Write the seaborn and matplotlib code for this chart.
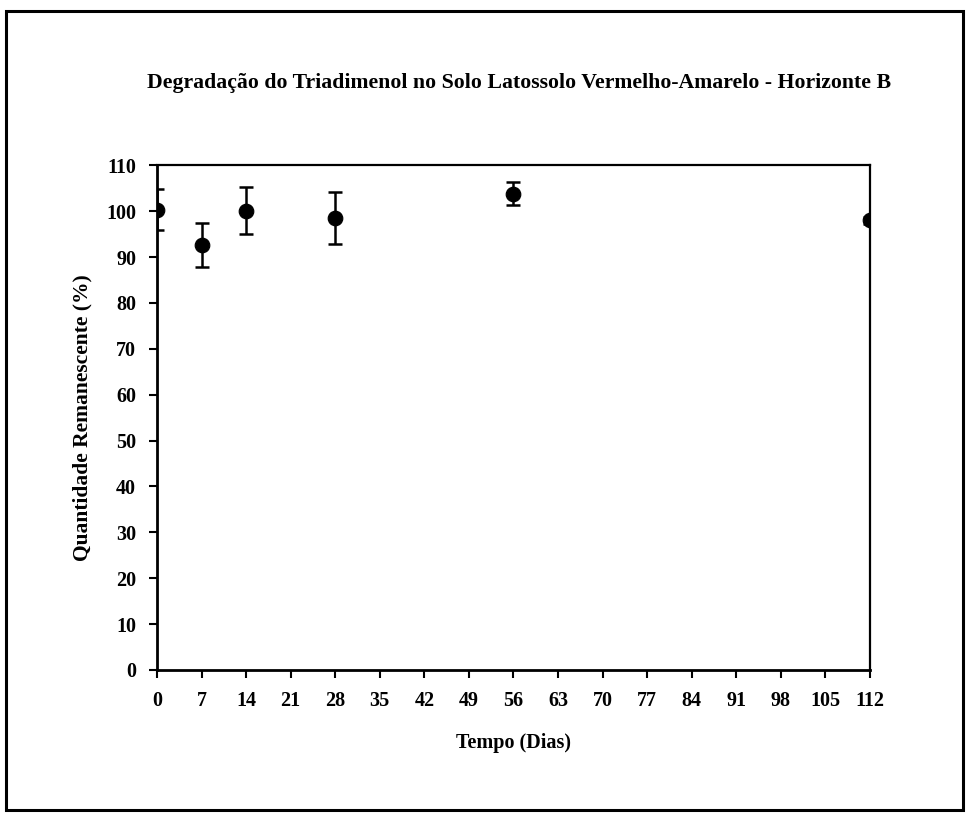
import matplotlib
matplotlib.use('Agg')
import matplotlib.pyplot as plt
import seaborn as sns
import pandas as pd
from matplotlib.patches import Rectangle

# Dados
dias = [0, 7, 14, 28, 56, 112]
quantidade = [100.3, 92.7, 100.1, 98.5, 103.8, 98.0]
desvio = [4.5, 4.8, 5.1, 5.6, 2.5, 0.8]

x_ticks = list(range(0, 113, 7))
y_ticks = list(range(0, 111, 10))

df = pd.DataFrame({'Dias': dias, 'Quantidade': quantidade, 'Desvio': desvio})

sns.set_style('ticks')
plt.rcParams['font.family'] = ['Liberation Serif', 'DejaVu Serif']
plt.rcParams['font.weight'] = 'bold'
plt.rcParams['text.color'] = 'black'
plt.rcParams['axes.labelcolor'] = 'black'

fig = plt.figure(figsize=(9.72, 8.14), dpi=100)
ax = fig.add_axes([0.1615, 0.177, 0.7335, 0.62])

ax.errorbar(df['Dias'], df['Quantidade'], yerr=df['Desvio'], fmt='none',
            ecolor='black', elinewidth=1.8, capsize=5, capthick=1.8, zorder=2)
sns.scatterplot(data=df, x='Dias', y='Quantidade', color='black', s=110,
                edgecolor='black', ax=ax, zorder=3, legend=False)

ax.set_xlim(0, 112)
ax.set_ylim(0, 110)
ax.set_xticks(x_ticks)
ax.set_yticks(y_ticks)
ax.tick_params(axis='both', direction='out', length=6, width=1.5,
               labelsize=14.5, colors='black', pad=9)
for lab in ax.get_xticklabels() + ax.get_yticklabels():
    lab.set_fontweight('bold')

for sp in ax.spines.values():
    sp.set_visible(True)
    sp.set_color('black')
    sp.set_linewidth(2)
ax.spines['top'].set_linewidth(1.6)
ax.spines['right'].set_linewidth(1.6)

ax.set_xlabel('Tempo (Dias)', fontsize=14.5, fontweight='bold', labelpad=16)
ax.set_ylabel('Quantidade Remanescente (%)', fontsize=15.5, fontweight='bold', labelpad=10)

fig.text(0.534, 0.898, 'Degradação do Triadimenol no Solo Latossolo Vermelho-Amarelo - Horizonte B',
         ha='center', va='center', fontsize=15.7, fontweight='bold')

# moldura externa
fig.patches.append(Rectangle((0.006, 0.005), 0.985, 0.982, transform=fig.transFigure,
                             fill=False, edgecolor='black', linewidth=2.2))

fig.savefig('out.png', dpi=100)
